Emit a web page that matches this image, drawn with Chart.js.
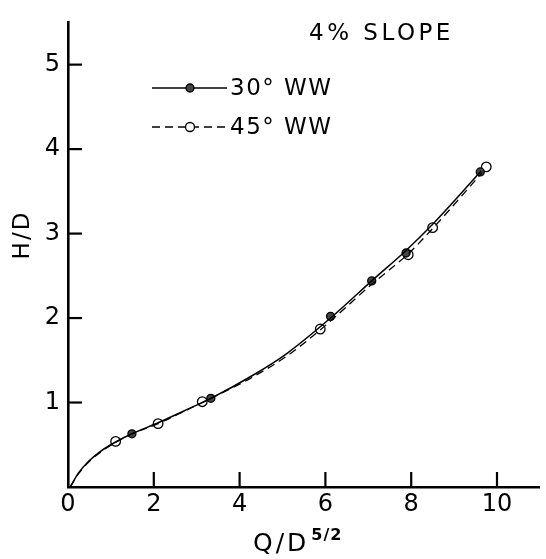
<!DOCTYPE html>
<html>
<head>
<meta charset="utf-8">
<script src="https://cdn.jsdelivr.net/npm/chart.js@4"></script>
<style>
html,body{margin:0;padding:0;background:#fff;}
#wrap{width:546px;height:559px;position:relative;}
</style>
</head>
<body>
<div id="wrap"><canvas id="c" width="546" height="559"></canvas></div>
<script>
// ---- data ----
const seriesNames = ['30° WW', '45° WW'];
const title = '4% SLOPE';
const xTitleMain = 'Q/D';
const xTitleSup = '5/2';
const yTitle = 'H/D';
const xTickVals = [0, 2, 4, 6, 8, 10];
const yTickVals = [1, 2, 3, 4, 5];

// measured points (Q/D^5/2 , H/D)
const ww30X = [1.49, 3.33, 6.12, 7.08, 7.88, 9.61];
const ww30Y = [0.63, 1.05, 2.02, 2.44, 2.77, 3.73];
const ww45X = [1.11, 2.10, 3.13, 5.88, 7.93, 8.50, 9.75];
const ww45Y = [0.54, 0.75, 1.01, 1.87, 2.75, 3.07, 3.79];

// fitted curves
const curve30X = [0.05, 0.25, 0.47, 0.75, 1.10, 1.49, 2.10, 2.70, 3.33, 4.30, 5.10, 6.12, 7.08, 7.88, 8.50, 9.63];
const curve30Y = [0.00, 0.17, 0.30, 0.42, 0.53, 0.63, 0.76, 0.90, 1.05, 1.32, 1.58, 2.00, 2.44, 2.80, 3.11, 3.74];
const curve45X = [0.05, 0.25, 0.47, 0.75, 1.11, 1.49, 2.10, 2.60, 3.13, 4.30, 5.10, 5.88, 7.08, 7.93, 8.50, 9.65];
const curve45Y = [0.00, 0.16, 0.29, 0.41, 0.53, 0.63, 0.75, 0.87, 1.00, 1.30, 1.55, 1.86, 2.40, 2.76, 3.06, 3.72];

const pts = (xs, ys) => xs.map((x, i) => ({x: x, y: ys[i]}));
const FONT = '"DejaVu Sans", "Liberation Sans", sans-serif';

const overlay = {
  id: 'overlay',
  afterDraw(chart) {
    const ctx = chart.ctx;
    const xs = chart.scales.x, ys = chart.scales.y;
    const y0 = ys.getPixelForValue(0), x0 = xs.left;
    ctx.save();
    ctx.strokeStyle = '#000';
    // inward tick marks
    ctx.lineWidth = 2.2;
    yTickVals.forEach(v => {
      const p = ys.getPixelForValue(v);
      ctx.beginPath(); ctx.moveTo(x0, p); ctx.lineTo(x0 + 14, p); ctx.stroke();
    });
    xTickVals.forEach(v => {
      if (v === 0) return;
      const p = xs.getPixelForValue(v);
      ctx.beginPath(); ctx.moveTo(p, y0); ctx.lineTo(p, y0 - 15); ctx.stroke();
    });
    ctx.fillStyle = '#000';
    // title
    ctx.font = '23px ' + FONT;
    ctx.textBaseline = 'middle';
    ctx.textAlign = 'left';
    ctx.letterSpacing = '3.5px';
    ctx.fillText(title, 309, 34);
    // legend
    const legY = [88, 127];
    ctx.letterSpacing = '1.5px';
    legY.forEach((ly, i) => {
      ctx.lineWidth = 1.4;
      ctx.setLineDash(i === 0 ? [] : [8, 5]);
      ctx.beginPath(); ctx.moveTo(152, ly); ctx.lineTo(227, ly); ctx.stroke();
      ctx.setLineDash([]);
      ctx.beginPath(); ctx.arc(190, ly, i === 0 ? 4 : 4.5, 0, Math.PI * 2);
      ctx.fillStyle = i === 0 ? '#444' : '#fff';
      ctx.fill(); ctx.lineWidth = 1.3; ctx.stroke();
      ctx.fillStyle = '#000';
      ctx.font = '23px ' + FONT;
      ctx.fillText(seriesNames[i], 230, ly + 1);
    });
    ctx.letterSpacing = '0px';
    // y title
    ctx.save();
    ctx.translate(23, 235);
    ctx.rotate(-Math.PI / 2);
    ctx.textAlign = 'center';
    ctx.font = '23px ' + FONT;
    ctx.letterSpacing = '2px';
    ctx.fillText(yTitle, 0, 0);
    ctx.restore();
    // x title with superscript
    ctx.textAlign = 'left';
    ctx.textBaseline = 'alphabetic';
    ctx.font = '25px ' + FONT;
    ctx.letterSpacing = '3px';
    ctx.fillText(xTitleMain, 253, 551);
    const w = ctx.measureText(xTitleMain).width;
    ctx.font = 'bold 16px ' + FONT;
    ctx.letterSpacing = '1px';
    ctx.fillText(xTitleSup, 253 + w + 2, 540);
    ctx.restore();
  }
};

new Chart(document.getElementById('c'), {
  type: 'scatter',
  data: {
    datasets: [
      { label: seriesNames[0] + ' curve', data: pts(curve30X, curve30Y), showLine: true,
        borderColor: '#000', borderWidth: 1.5, pointRadius: 0, cubicInterpolationMode: 'monotone', fill: false },
      { label: seriesNames[1] + ' curve', data: pts(curve45X, curve45Y), showLine: true,
        borderColor: '#000', borderWidth: 1.3, borderDash: [8, 5], pointRadius: 0, cubicInterpolationMode: 'monotone', fill: false },
      { label: seriesNames[0], data: pts(ww30X, ww30Y), showLine: false,
        pointRadius: 4, pointBackgroundColor: '#444', pointBorderColor: '#000', pointBorderWidth: 1.3 },
      { label: seriesNames[1], data: pts(ww45X, ww45Y), showLine: false,
        pointRadius: 4.8, pointBackgroundColor: '#fff', pointBorderColor: '#000', pointBorderWidth: 1.3 }
    ]
  },
  options: {
    responsive: false,
    animation: false,
    layout: { padding: { top: 10, right: 3, left: 0, bottom: 0 } },
    plugins: { legend: { display: false }, tooltip: { enabled: false } },
    scales: {
      x: {
        type: 'linear', min: 0, max: 11,
        afterFit(s) { s.height = 72; },
        afterBuildTicks(s) { s.ticks = xTickVals.map(v => ({value: v})); },
        grid: { display: false, drawTicks: false },
        border: { display: true, color: '#000', width: 2.6 },
        ticks: { color: '#000', padding: 3, autoSkip: false, maxRotation: 0,
          font: { family: FONT, size: 24 } }
      },
      y: {
        type: 'linear', min: 0, max: 5.5,
        afterFit(s) { s.width = 68; },
        afterBuildTicks(s) { s.ticks = yTickVals.map(v => ({value: v})); },
        grid: { display: false, drawTicks: false },
        border: { display: true, color: '#000', width: 2.6 },
        ticks: { color: '#000', padding: 8, autoSkip: false,
          font: { family: FONT, size: 24 } }
      }
    }
  },
  plugins: [overlay]
});
</script>
</body>
</html>
